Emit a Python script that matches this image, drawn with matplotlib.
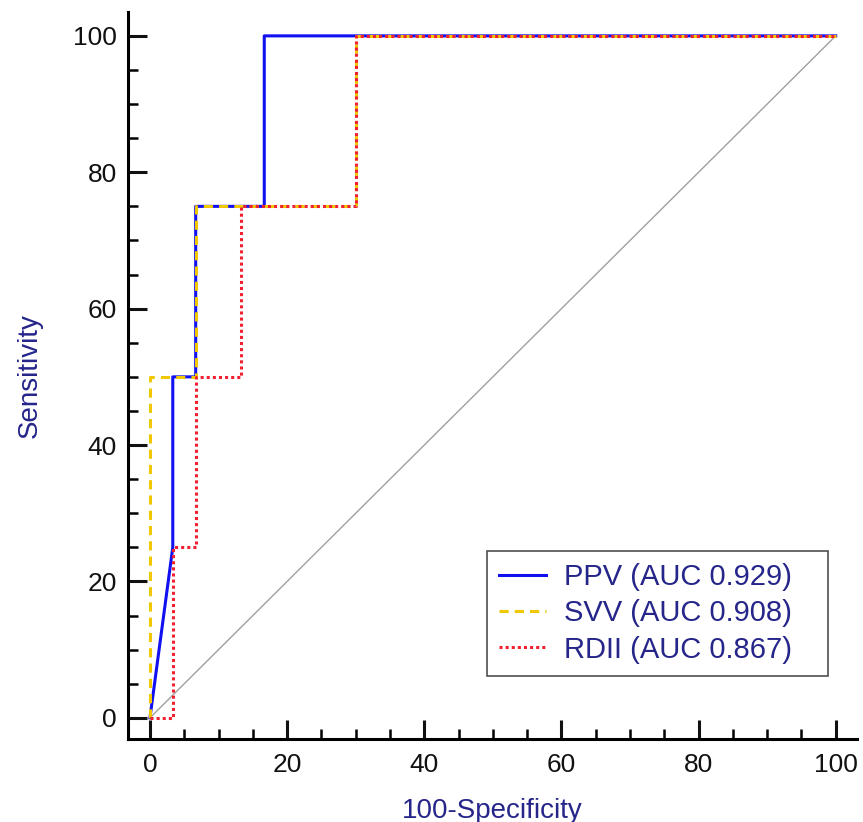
import matplotlib
matplotlib.use("Agg")
import matplotlib.pyplot as plt
from matplotlib.ticker import MultipleLocator

plt.rcParams["font.family"] = ["Liberation Sans", "DejaVu Sans"]

# ROC curves (100-Specificity, Sensitivity)
ppv_x = [0, 3.33, 3.33, 6.67, 6.67, 16.67, 16.67, 100]
ppv_y = [0, 25, 50, 50, 75, 75, 100, 100]

svv_x = [0, 0, 6.67, 6.67, 30, 30, 100]
svv_y = [0, 50, 50, 75, 75, 100, 100]

rdii_x = [0, 3.33, 3.33, 6.67, 6.67, 13.33, 13.33, 30, 30, 100]
rdii_y = [0, 0, 25, 25, 50, 50, 75, 75, 100, 100]

labels = ["PPV (AUC 0.929)", "SVV (AUC 0.908)", "RDII (AUC 0.867)"]

navy = "#25258a"

fig = plt.figure(figsize=(8.63, 8.22), dpi=100)
ax = fig.add_axes([128 / 863, 83 / 822, 729 / 863, 727 / 822])

ax.plot([0, 100], [0, 100], color="#a0a0a0", lw=1.0, zorder=1)
ax.plot(ppv_x, ppv_y, color="#1010f0", lw=2.2, ls="-", label=labels[0], zorder=3)
ax.plot(svv_x, svv_y, color="#f0c800", lw=2.2, ls=(0, (3, 2)), label=labels[1], zorder=4)
ax.plot(rdii_x, rdii_y, color="#f02030", lw=2.2, ls=(0, (1, 1)), label=labels[2], zorder=5)

ax.set_xlim(-3.2, 103.1)
ax.set_ylim(-3.1, 103.5)

for s in ["top", "right"]:
    ax.spines[s].set_visible(False)
for s in ["left", "bottom"]:
    ax.spines[s].set_linewidth(2.2)

ax.xaxis.set_major_locator(MultipleLocator(20))
ax.xaxis.set_minor_locator(MultipleLocator(5))
ax.yaxis.set_major_locator(MultipleLocator(20))
ax.yaxis.set_minor_locator(MultipleLocator(5))
ax.tick_params(which="major", direction="in", length=14, width=2.2,
               labelsize=19, colors="#111111", pad=8)
ax.tick_params(which="minor", direction="in", length=7, width=1.8)
ax.tick_params(axis="x", which="major", pad=10)

ax.set_xlabel("100-Specificity", fontsize=20, color=navy, labelpad=15)
ax.set_ylabel("Sensitivity", fontsize=20, color=navy, labelpad=22)

leg = ax.legend(loc="upper left",
                bbox_to_anchor=(487 / 863, 1 - 551 / 822, 341 / 863, 0),
                bbox_transform=fig.transFigure, borderaxespad=0, mode="expand",
                fontsize=21, frameon=True, fancybox=False,
                edgecolor="#222222", handlelength=1.6, handletextpad=0.62,
                labelspacing=0.28, borderpad=0.42)
leg.get_frame().set_linewidth(1.2)
for t in leg.get_texts():
    t.set_color(navy)

fig.savefig("out.png", dpi=100)
